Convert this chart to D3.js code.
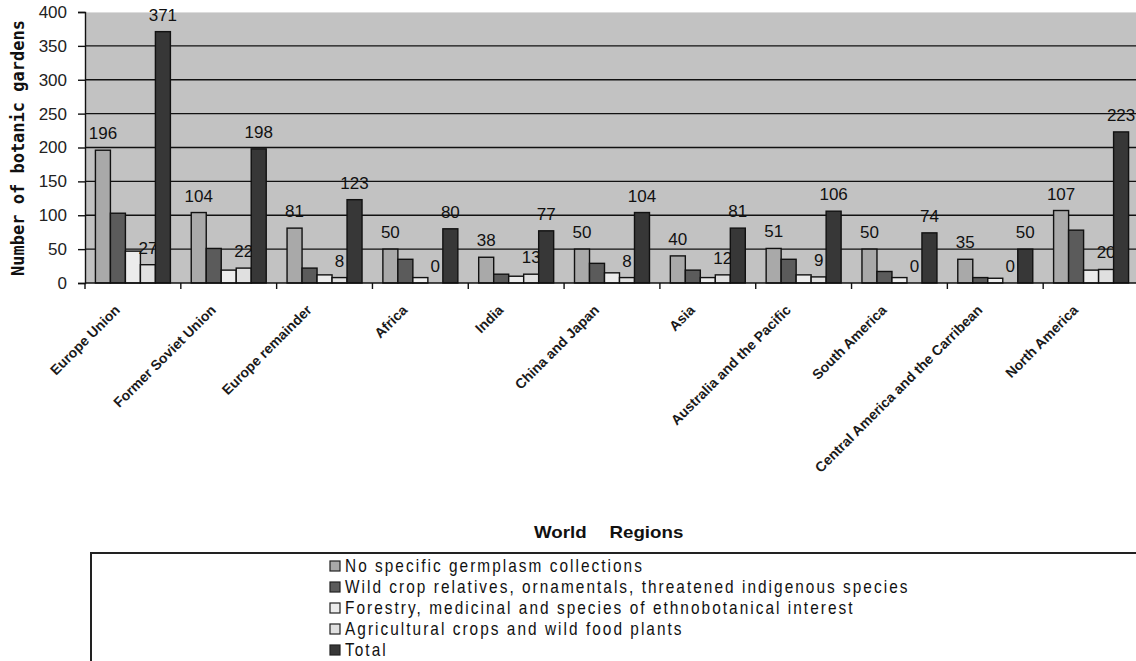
<!DOCTYPE html>
<html>
<head>
<meta charset="utf-8">
<script src="https://cdn.jsdelivr.net/npm/d3@7"></script>
<style>
  html, body { margin: 0; padding: 0; background: #fff; }
  svg { display: block; }
</style>
</head>
<body>
<svg id="chart" width="1136" height="661"></svg>
<script>
// Botanic gardens by world region and type of germplasm collection
const regions = [
  "Europe Union", "Former Soviet Union", "Europe remainder", "Africa", "India",
  "China and Japan", "Asia", "Australia and the Pacific", "South America",
  "Central America and the Carribean", "North America"
];
const seriesNames = [
  "No specific germplasm collections",
  "Wild crop relatives, ornamentals, threatened indigenous species",
  "Forestry, medicinal and species of ethnobotanical interest",
  "Agricultural crops and wild food plants",
  "Total"
];
const noSpecific    = [196, 104, 81, 50, 38, 50, 40, 51, 50, 35, 107];
const wildRelatives = [103, 51, 22, 35, 13, 29, 19, 35, 17, 8, 78];
const forestry      = [47, 19, 12, 8, 10, 15, 8, 12, 8, 7, 19];
const agricultural  = [27, 22, 8, 0, 13, 8, 12, 9, 0, 0, 20];
const totals        = [371, 198, 123, 80, 77, 104, 81, 106, 74, 50, 223];
const yTicks = [0, 50, 100, 150, 200, 250, 300, 350, 400];

const seriesValues = [noSpecific, wildRelatives, forestry, agricultural, totals];
const labelledSeries = [true, false, false, true, true];
const colors = ["#a9a9a9", "#5b5b5b", "#ececec", "#e0e0e0", "#373737"];

const svg = d3.select("#chart");
const plotLeft = 85, plotRight = 1139, plotTop = 12, plotBottom = 283;

const x0 = d3.scaleBand().domain(regions).range([plotLeft, plotRight]).padding(0);
const x1 = d3.scaleBand().domain(d3.range(seriesNames.length))
  .range([0, x0.bandwidth()]).paddingInner(0).paddingOuter(0.695);
const y = d3.scaleLinear().domain([0, 400]).range([plotBottom, plotTop]);

// plot background
svg.append("rect")
  .attr("x", plotLeft).attr("y", plotTop)
  .attr("width", plotRight - plotLeft).attr("height", plotBottom - plotTop)
  .attr("fill", "#c2c2c2");
svg.append("line")
  .attr("x1", plotLeft).attr("x2", plotRight).attr("y1", plotTop + 0.5).attr("y2", plotTop + 0.5)
  .attr("stroke", "#dcdcdc").attr("stroke-width", 1);

// horizontal gridlines
svg.append("g")
  .selectAll("line")
  .data(yTicks.filter(t => t > 0 && t < 400))
  .join("line")
  .attr("x1", plotLeft).attr("x2", plotRight)
  .attr("y1", d => y(d)).attr("y2", d => y(d))
  .attr("stroke", "#111").attr("stroke-width", 1.4);

// bars and value labels, one series after another
seriesValues.forEach((vals, si) => {
  const g = svg.append("g");
  g.selectAll("rect")
    .data(vals)
    .join("rect")
    .attr("x", (d, i) => x0(regions[i]) + x1(si))
    .attr("y", d => y(d))
    .attr("width", x1.bandwidth())
    .attr("height", d => y(0) - y(d))
    .attr("fill", colors[si])
    .attr("stroke", "#111")
    .attr("stroke-width", 1.4);
  if (labelledSeries[si]) {
    g.selectAll("text")
      .data(vals)
      .join("text")
      .attr("x", (d, i) => x0(regions[i]) + x1(si) + x1.bandwidth() / 2)
      .attr("y", d => y(d) - 11)
      .attr("text-anchor", "middle")
      .attr("font-family", "Liberation Sans, Arial, sans-serif")
      .attr("font-size", 17)
      .attr("fill", "#111")
      .text(d => d);
  }
});

// y axis
const yAxis = svg.append("g")
  .attr("transform", `translate(${plotLeft},0)`)
  .call(d3.axisLeft(y).tickValues(yTicks).tickSize(7).tickPadding(11));
yAxis.select(".domain").attr("stroke", "#111").attr("stroke-width", 1.4);
yAxis.selectAll(".tick line").attr("stroke", "#111").attr("stroke-width", 1.4);
yAxis.selectAll(".tick text")
  .attr("font-family", "Liberation Sans, Arial, sans-serif")
  .attr("font-size", 17)
  .attr("fill", "#222");

// x axis: ticks at category boundaries
const bounds = regions.map(r => x0(r));
svg.append("line")
  .attr("x1", plotLeft).attr("x2", plotRight).attr("y1", plotBottom).attr("y2", plotBottom)
  .attr("stroke", "#111").attr("stroke-width", 1.4);
svg.append("g")
  .selectAll("line")
  .data(bounds)
  .join("line")
  .attr("x1", d => d).attr("x2", d => d)
  .attr("y1", plotBottom).attr("y2", plotBottom + 6)
  .attr("stroke", "#111").attr("stroke-width", 1.4);

svg.append("g")
  .selectAll("text")
  .data(regions)
  .join("text")
  .attr("transform", d => `translate(${x0(d) + x0.bandwidth() / 2 - 12},311) rotate(-45)`)
  .attr("text-anchor", "end")
  .attr("font-family", "Liberation Sans, Arial, sans-serif")
  .attr("font-weight", "bold")
  .attr("font-size", 14)
  .attr("fill", "#1a1a1a")
  .text(d => d);

// axis titles
svg.append("text")
  .attr("transform", "translate(24,148) rotate(-90)")
  .attr("text-anchor", "middle")
  .attr("font-family", "DejaVu Sans Mono, monospace")
  .attr("font-weight", "bold")
  .attr("font-size", 17)
  .attr("fill", "#111")
  .text("Number of botanic gardens");

const xTitle = svg.append("text")
  .attr("transform", "translate(534,538) scale(1.17,1)")
  .attr("font-family", "Liberation Sans, Arial, sans-serif")
  .attr("font-weight", "bold")
  .attr("font-size", 16)
  .attr("fill", "#111");
xTitle.append("tspan").text("World");
xTitle.append("tspan").attr("dx", 19.5).text("Regions");

// legend
svg.append("rect")
  .attr("x", 91).attr("y", 553)
  .attr("width", 1100).attr("height", 200)
  .attr("fill", "#fff")
  .attr("stroke", "#222").attr("stroke-width", 2);

const legend = svg.append("g");
const rowY = d3.scaleLinear().domain([0, 4]).range([566, 650]);
const items = legend.selectAll("g")
  .data(seriesNames)
  .join("g")
  .attr("transform", (d, i) => `translate(330,${rowY(i)})`);
items.append("rect")
  .attr("x", 0).attr("y", -5)
  .attr("width", 10).attr("height", 10)
  .attr("fill", (d, i) => colors[i])
  .attr("stroke", "#222").attr("stroke-width", 1.2);
const legendText = items.append("text")
  .attr("font-family", "Liberation Sans, Arial, sans-serif")
  .attr("font-size", 18)
  .attr("letter-spacing", 2.4)
  .attr("fill", "#111")
  .text(d => d);

// condensed legend lettering: squeeze horizontally so the longest entry spans 565px
const longest = d3.max(legendText.nodes(), n => n.getComputedTextLength());
const squeeze = 565 / longest;
legendText.attr("transform", `translate(15,6) scale(${squeeze},1)`);
</script>
</body>
</html>
